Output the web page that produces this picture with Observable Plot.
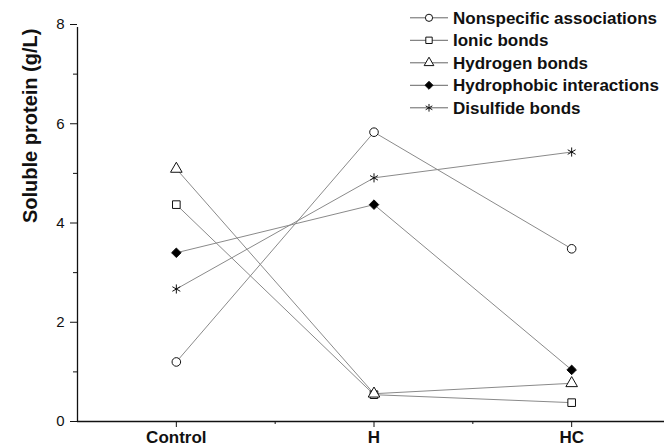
<!DOCTYPE html>
<html>
<head>
<meta charset="utf-8">
<script src="https://cdn.jsdelivr.net/npm/d3@7"></script>
<script src="https://cdn.jsdelivr.net/npm/@observablehq/plot@0.6"></script>
<style>
  html, body { margin: 0; padding: 0; background: #fff; }
  #wrap { position: relative; width: 664px; height: 447px; overflow: hidden; }
  #wrap svg { position: absolute; left: 0; top: 0; }
</style>
</head>
<body>
<div id="wrap"></div>
<script>
const categories = ["Control", "H", "HC"];
const seriesNames = ["Nonspecific associations", "Ionic bonds", "Hydrogen bonds", "Hydrophobic interactions", "Disulfide bonds"];
const nonspecific = [1.20, 5.83, 3.48];
const ionic = [4.37, 0.54, 0.38];
const hydrogen = [5.09, 0.56, 0.77];
const hydrophobic = [3.40, 4.37, 1.04];
const disulfide = [2.67, 4.91, 5.43];
const yMajorTicks = [0, 2, 4, 6, 8];
const yMinorTicks = [1, 3, 5, 7];
const symbols = ["circle", "square", "triangle", "diamond2", "asterisk"];
const fills = ["white", "white", "white", "black", "none"];

const seriesValues = [nonspecific, ionic, hydrogen, hydrophobic, disulfide];
const data = [];
seriesNames.forEach((s, si) => {
  seriesValues[si].forEach((v, i) => data.push({series: s, xi: i, value: v}));
});

const font = "'Liberation Sans', Arial, sans-serif";
const lineColor = "#8a8a8a";

const chart = Plot.plot({
  width: 664,
  height: 447,
  marginLeft: 77,
  marginRight: 0,
  marginTop: 24,
  marginBottom: 26,
  style: {fontFamily: font, background: "white", overflow: "visible"},
  x: {type: "linear", domain: [-0.5, 2.5], range: [77, 670]},
  y: {domain: [0, 8]},
  symbol: {domain: seriesNames, range: symbols},
  marks: [
    Plot.axisY({ticks: yMajorTicks, tickSize: 7, tickPadding: 6, fontSize: 15, label: null, color: "#111"}),
    Plot.axisY({ticks: yMinorTicks, tickSize: 4, tickFormat: () => "", label: null, color: "#111"}),
    Plot.axisX({ticks: [0, 1, 2], tickFormat: i => categories[i], tickSize: 6, tickPadding: 3, fontSize: 17, fontWeight: "bold", label: null, color: "#111"}),
    Plot.axisX({ticks: [0.5, 1.5], tickSize: 3, tickFormat: () => "", label: null, color: "#111"}),
    Plot.ruleY([0], {stroke: "#111", strokeWidth: 1.3}),
    Plot.ruleX([-0.5], {y1: 0, y2: 8, stroke: "#111", strokeWidth: 1.3, insetBottom: -3}),
    Plot.text(["Soluble protein (g/L)"], {frameAnchor: "left", rotate: -90, dx: -47, fontSize: 20, fontWeight: "bold", fill: "#111"}),
    Plot.line(data, {x: "xi", y: "value", z: "series", stroke: lineColor, strokeWidth: 1}),
    Plot.dot(data, {
      x: "xi", y: "value", symbol: "series", r: 4.3,
      stroke: "#111", strokeWidth: 1,
      fill: d => fills[seriesNames.indexOf(d.series)]
    })
  ]
});
document.getElementById("wrap").appendChild(chart);

// Legend overlay
const legend = d3.select("#wrap").append("svg")
  .attr("width", 664).attr("height", 447)
  .style("pointer-events", "none");
const symMap = {circle: d3.symbolCircle, square: d3.symbolSquare, triangle: d3.symbolTriangle, diamond2: d3.symbolDiamond2, asterisk: d3.symbolAsterisk};
seriesNames.forEach((s, i) => {
  const y = 17.8 + i * 22.5;
  const g = legend.append("g").attr("transform", `translate(0,${y})`);
  g.append("line").attr("x1", 410).attr("x2", 448).attr("y1", 0).attr("y2", 0)
    .attr("stroke", "#666").attr("stroke-width", 1);
  g.append("path")
    .attr("d", d3.symbol(symMap[symbols[i]], Math.PI * 3.6 * 3.6)())
    .attr("transform", "translate(429,0)")
    .attr("fill", fills[i]).attr("stroke", "#111").attr("stroke-width", 1);
  g.append("text").attr("x", 453).attr("y", 0).attr("dy", "0.35em")
    .attr("font-family", font).attr("font-size", 17).attr("font-weight", "bold")
    .attr("fill", "#111").text(s);
});
</script>
</body>
</html>
